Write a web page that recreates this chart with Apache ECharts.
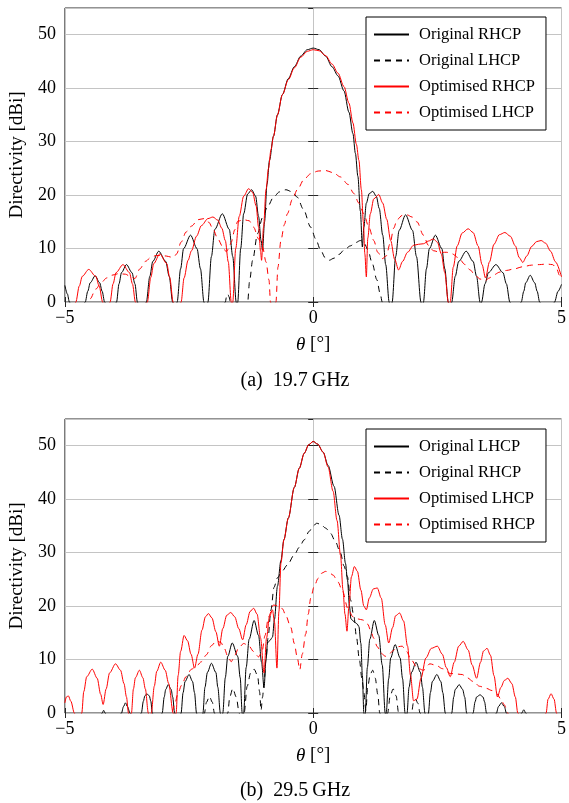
<!DOCTYPE html>
<html>
<head>
<meta charset="utf-8">
<script src="https://cdn.jsdelivr.net/npm/echarts@6/dist/echarts.min.js"></script>
<style>
html,body{margin:0;padding:0;background:#fff;}
#chart{width:569px;height:803px;}
</style>
</head>
<body>
<div id="chart"></div>
<script>
// ---------- tick values ----------
const xTicks = [-5, 0, 5];
const yTicks = [0, 10, 20, 30, 40, 50];
const yMax = 55;

// ---------- legend labels ----------
const legendA = ['Original RHCP', 'Original LHCP', 'Optimised RHCP', 'Optimised LHCP'];
const legendB = ['Original LHCP', 'Original RHCP', 'Optimised LHCP', 'Optimised RHCP'];
const captionA = '(a)  19.7\u2009GHz';
const captionB = '(b)  29.5\u2009GHz';

// ---------- (a) 19.7 GHz : [theta (deg), directivity (dBi)] ----------
const a_originalRHCP = [[-5,3.1],[-4.95,1.5],[-4.91,0],[-4.75,-6],
[-4.59,0],[-4.54,2.0],[-4.49,3.6],[-4.39,4.9],[-4.30,3.6],[-4.25,2.0],[-4.20,0],[-4.08,-6],
[-3.96,0],[-3.91,3.4],[-3.86,5.5],[-3.76,7.0],[-3.65,5.5],[-3.59,3.4],[-3.54,0],[-3.45,-6],
[-3.36,0],[-3.29,4.8],[-3.23,7.6],[-3.11,9.5],[-2.97,7.6],[-2.90,4.8],[-2.83,0],[-2.785,-6],
[-2.74,0],[-2.67,6.2],[-2.61,10.0],[-2.47,12.5],[-2.34,10.0],[-2.27,6.2],[-2.20,0],[-2.16,-6],
[-2.12,0],[-2.05,8.5],[-1.98,13.6],[-1.83,16.5],[-1.69,13.6],[-1.62,8.5],[-1.55,0],[-1.535,-6],
[-1.52,0],[-1.46,10],[-1.40,16.5],[-1.32,20.2],[-1.24,21.0],[-1.16,19.8],[-1.10,16],[-1.05,11.5],[-1.02,9.7],
[-0.98,15],[-0.93,22],[-0.88,26.5],[-0.80,31],[-0.72,35],[-0.62,38.8],[-0.50,41.8],[-0.38,44],[-0.25,46],[-0.12,47.2],[0,47.5],
[0.12,47.2],[0.25,46],[0.38,44],[0.50,42.3],[0.62,39.5],[0.72,35.5],[0.80,31.5],[0.85,27.8],[0.90,23.5],[0.95,17],[0.99,10.3],
[1.02,14],[1.07,18.5],[1.13,20.3],[1.20,20.7],[1.27,19.8],[1.33,17.5],[1.40,12.5],[1.46,7],[1.53,0],[1.56,-6],
[1.59,0],[1.66,8.5],[1.73,13.4],[1.86,16.3],[2.00,13.4],[2.08,8.5],[2.17,0],[2.195,-6],
[2.22,0],[2.28,6.2],[2.34,10],[2.46,12.5],[2.59,10],[2.65,6.2],[2.72,0],[2.755,-6],
[2.79,0],[2.86,4.8],[2.93,7.6],[3.08,9.5],[3.22,7.6],[3.29,4.8],[3.36,0],[3.375,-6],
[3.39,0],[3.46,3.4],[3.53,5.5],[3.68,7.0],[3.82,5.5],[3.89,3.4],[3.96,0],[4.07,-6],
[4.19,0],[4.24,2.0],[4.28,3.6],[4.37,5.0],[4.46,3.6],[4.51,2.0],[4.56,0],[4.72,-6],
[4.86,0],[4.93,2.0],[5,3.3]];

const a_originalLHCP = [[-5,-10],[-1.9,-6],[-1.77,0],[-1.745,1.0],[-1.72,1.5],[-1.695,1.0],[-1.67,0],[-1.5,-6],
[-1.32,0],[-1.28,4],[-1.22,7.8],[-1.12,12.8],[-1.02,15.8],[-0.92,17.8],[-0.80,19.6],[-0.68,20.6],[-0.55,21.0],[-0.42,20.6],[-0.32,19.6],[-0.20,17.4],[-0.05,14.0],[0.05,11.8],[0.15,9.7],[0.24,8.3],[0.32,7.8],[0.42,8.2],[0.52,8.9],[0.62,9.7],[0.75,10.5],[0.85,11.1],[0.95,11.5],[1.02,11.2],[1.10,9.8],[1.19,7.2],[1.28,4.2],[1.35,1.5],[1.39,0],[1.5,-6],[5,-10]];

const a_optimisedRHCP = [[-5,-8],[-4.85,-4],[-4.78,0],[-4.71,3.0],[-4.65,4.8],[-4.52,6.1],[-4.38,4.8],[-4.31,3.0],[-4.24,0],[-4.165,-6],
[-4.09,0],[-4.03,3.4],[-3.97,5.5],[-3.83,7.0],[-3.70,5.5],[-3.64,3.4],[-3.58,0],[-3.46,-6],
[-3.34,0],[-3.27,4.6],[-3.21,7.2],[-3.09,9.0],[-2.95,7.2],[-2.89,4.6],[-2.82,0],[-2.74,-6],
[-2.66,0],[-2.60,4.5],[-2.52,7.8],[-2.45,9.6],[-2.35,12.3],[-2.25,14.3],[-2.12,15.6],[-2.02,15.9],[-1.92,15.3],[-1.84,13.8],[-1.77,11.5],[-1.71,7.5],[-1.65,0],[-1.635,-6],
[-1.62,0],[-1.56,10],[-1.49,16],[-1.40,19.8],[-1.30,21.2],[-1.22,20.5],[-1.15,18],[-1.10,14],[-1.06,9.5],[-1.04,7.8],
[-1.00,14],[-0.95,21],[-0.90,25],[-0.85,28.5],[-0.80,31],[-0.72,35],[-0.62,38.8],[-0.50,41.6],[-0.38,43.8],[-0.25,45.8],[-0.12,46.9],[0,47.2],
[0.12,47.0],[0.25,46.1],[0.38,44.5],[0.50,42.8],[0.62,40.3],[0.72,37.2],[0.80,33.5],[0.87,29.5],[0.92,26.5],[0.97,21],[1.01,15],[1.04,9],[1.07,4.7],
[1.10,12],[1.15,16.5],[1.22,19.3],[1.32,20.1],[1.40,18.5],[1.48,15.5],[1.56,11.5],[1.64,8],[1.72,6.0],[1.80,7.6],[1.90,9.3],[2.02,10.6],[2.12,10.8],[2.22,10.9],[2.32,11.4],[2.42,11.8],[2.50,11.2],[2.58,9],[2.65,5.5],[2.72,0],[2.74,-6],
[2.76,0],[2.82,6.5],[2.90,10.5],[3.00,12.9],[3.12,13.7],[3.22,13.0],[3.32,10.5],[3.40,7],[3.47,4.5],[3.55,7.5],[3.64,10.8],[3.75,12.6],[3.86,13.0],[3.97,12.3],[4.07,10.5],[4.15,8.3],[4.22,7.4],[4.30,8.6],[4.40,10.4],[4.50,11.3],[4.59,11.5],[4.68,11.0],[4.78,9.5],[4.88,7.5],[5,4.7]];

const a_optimisedLHCP = [[-5,-8],[-4.6,-4],[-4.49,0.6],[-4.38,2.4],[-4.26,3.7],[-4.16,4.5],[-4.06,5.0],[-3.92,5.3],[-3.78,5.2],[-3.66,4.6],[-3.59,4.4],[-3.49,6.2],[-3.38,7.6],[-3.26,8.4],[-3.16,8.7],[-3.06,8.7],[-2.96,8.6],[-2.86,8.4],[-2.80,8.5],[-2.75,9.0],[-2.66,11.2],[-2.56,13.1],[-2.45,14.2],[-2.32,15.4],[-2.20,15.6],[-2.10,14.9],[-2.02,13.7],[-1.92,11.8],[-1.82,10.3],[-1.75,9.4],[-1.70,10.0],[-1.65,11.2],[-1.58,13.5],[-1.52,15.1],[-1.40,15.4],[-1.29,15.2],[-1.20,14.0],[-1.10,11.8],[-1.02,10.3],[-0.95,7.5],[-0.89,4.1],[-0.86,0],[-0.80,-4],[-0.75,0],[-0.71,6.5],[-0.65,11.5],[-0.58,14.5],[-0.52,16.5],[-0.42,19.2],[-0.32,21.0],[-0.18,23.0],[-0.05,24.0],[0.10,24.5],[0.25,24.6],[0.40,24.2],[0.55,23.4],[0.70,22.0],[0.82,20.3],[0.92,18.5],[1.02,16.5],[1.12,14.0],[1.22,11.5],[1.30,9.3],[1.39,8.1],[1.47,8.6],[1.55,11.0],[1.62,13.8],[1.69,15.4],[1.79,16.2],[1.89,16.3],[1.99,15.9],[2.09,15.0],[2.22,12.5],[2.32,10.6],[2.42,9.6],[2.55,9.3],[2.69,9.3],[2.80,9.0],[2.92,8.3],[3.06,7.0],[3.16,6.0],[3.26,5.0],[3.36,4.3],[3.46,4.0],[3.55,4.5],[3.62,5.0],[3.76,5.6],[3.89,5.9],[4.05,6.2],[4.22,6.6],[4.40,6.9],[4.56,7.0],[4.70,7.1],[4.82,7.0],[4.90,6.3],[4.96,5.0],[5,4.4]];

// ---------- (b) 29.5 GHz ----------
const b_originalLHCP = [[-5,-8],[-4.35,-6],[-4.25,0],[-4.22,0.5],[-4.19,0],[-4.05,-6],
[-3.86,0],[-3.82,1.2],[-3.78,1.9],[-3.74,1.2],[-3.69,0],[-3.58,-6],
[-3.46,0],[-3.42,2.2],[-3.39,3.2],[-3.35,3.6],[-3.30,3.2],[-3.27,2.2],[-3.24,0],[-3.14,-6],
[-3.04,0],[-3.00,3.0],[-2.97,4.4],[-2.92,5.3],[-2.86,4.4],[-2.83,3.0],[-2.79,0],[-2.72,-6],
[-2.66,0],[-2.62,3.8],[-2.58,5.9],[-2.50,7.2],[-2.43,5.9],[-2.39,3.8],[-2.35,0],[-2.28,-6],
[-2.22,0],[-2.18,4.8],[-2.13,7.6],[-2.05,9.3],[-1.96,7.6],[-1.92,4.8],[-1.87,0],[-1.845,-6],
[-1.82,0],[-1.77,6.6],[-1.72,10.6],[-1.63,13.1],[-1.52,10.6],[-1.47,6.6],[-1.43,0],[-1.415,-4],
[-1.40,0],[-1.35,8.5],[-1.29,13.8],[-1.19,17.3],[-1.10,14.5],[-1.04,9.5],[-0.99,4.7],[-0.95,10],[-0.92,13.1],[-0.87,13.6],[-0.82,14.2],[-0.78,17.5],[-0.72,23.7],[-0.65,28.5],[-0.59,32.4],[-0.50,36.5],[-0.38,42.2],[-0.28,45.8],[-0.18,48.6],[-0.09,50.2],[0,50.8],[0.09,50.3],[0.20,48.8],[0.30,46.3],[0.42,42.4],[0.52,37.0],[0.59,32.5],[0.65,28],[0.69,24.9],[0.73,20],[0.76,17.6],[0.82,17.1],[0.88,16.7],[0.92,16.2],[0.96,13],[0.99,7],[1.02,0],[1.035,-5],
[1.05,0],[1.09,8.5],[1.14,13.8],[1.23,17.3],[1.32,14.5],[1.39,9],[1.45,0],[1.46,-5],
[1.47,0],[1.52,6.4],[1.56,10.3],[1.65,12.8],[1.75,10.3],[1.80,6.4],[1.85,0],[1.87,-5],
[1.89,0],[1.93,4.8],[1.98,7.6],[2.07,9.5],[2.16,7.6],[2.20,4.8],[2.25,0],[2.285,-5],
[2.32,0],[2.36,3.8],[2.40,5.9],[2.49,7.2],[2.57,5.9],[2.61,3.8],[2.66,0],[2.72,-5],
[2.79,0],[2.83,3.0],[2.86,4.4],[2.94,5.3],[3.01,4.4],[3.05,3.0],[3.09,0],[3.15,-5],
[3.22,0],[3.26,2.1],[3.29,3.0],[3.36,3.4],[3.42,3.0],[3.45,2.1],[3.49,0],[3.59,-5],
[3.69,0],[3.73,1.2],[3.79,1.9],[3.85,1.2],[3.89,0],[4.05,-5],
[4.20,0],[4.24,0.6],[4.28,0],[4.4,-6],[5,-8]];

const b_originalRHCP = [[-5,-8],[-2.3,-6],[-2.19,0],[-2.15,2.0],[-2.09,3.1],[-2.03,2.0],[-1.99,0],[-1.85,-6],
[-1.72,0],[-1.68,3.0],[-1.62,4.6],[-1.55,3.0],[-1.49,0],[-1.44,-6],
[-1.39,0],[-1.33,5],[-1.26,7.5],[-1.19,8.2],[-1.12,7],[-1.08,4],[-1.05,0.5],[-1.02,3],[-0.99,5.6],[-0.95,10],[-0.91,14],[-0.85,19.3],[-0.79,23.5],[-0.72,25.3],[-0.62,26.6],[-0.52,27.7],[-0.38,29.6],[-0.28,31.0],[-0.18,32.4],[-0.08,34.0],[0,35.0],[0.07,35.5],[0.15,35.3],[0.25,34.6],[0.35,33.6],[0.45,32.0],[0.55,29.9],[0.62,27.5],[0.69,25.5],[0.75,21.2],[0.82,18.1],[0.87,14.3],[0.93,10],[0.98,6.5],[1.02,4],[1.06,0.5],[1.10,5],[1.15,7.3],[1.20,8.0],[1.25,6.5],[1.30,3.5],[1.34,0],[1.42,-6],
[1.50,0],[1.55,3.2],[1.61,4.5],[1.67,3.2],[1.72,0],[1.85,-6],
[1.98,0],[2.02,2.0],[2.06,2.6],[2.11,1.8],[2.15,0],[2.3,-6],[5,-8]];

const b_optimisedLHCP = [[-5,1.9],[-4.97,3.0],[-4.93,3.2],[-4.88,2.2],[-4.81,0],[-4.74,-5],
[-4.66,0],[-4.62,4],[-4.56,6.8],[-4.45,8.2],[-4.35,6.5],[-4.28,3.5],[-4.23,1.6],[-4.17,4.5],[-4.10,7.5],[-3.98,9.2],[-3.88,8],[-3.81,5.5],[-3.76,3],[-3.72,0],[-3.69,-4],
[-3.66,0],[-3.62,4.5],[-3.58,6.6],[-3.50,8.0],[-3.43,6.6],[-3.38,4.5],[-3.32,0],[-3.29,-4],
[-3.26,0],[-3.20,5],[-3.15,7.8],[-3.07,9.5],[-2.98,8],[-2.91,5.5],[-2.82,0],[-2.79,-4],
[-2.76,0],[-2.72,7],[-2.67,11.5],[-2.60,14.5],[-2.53,13.5],[-2.46,11],[-2.39,8.4],[-2.32,11],[-2.24,15.5],[-2.17,18],[-2.11,18.6],[-2.04,17.8],[-1.96,15.2],[-1.89,12.5],[-1.82,15.8],[-1.74,18.3],[-1.66,18.8],[-1.58,18],[-1.50,15.8],[-1.42,13.7],[-1.35,16.5],[-1.27,19.0],[-1.20,19.6],[-1.13,18.5],[-1.06,14],[-0.99,7.5],[-0.94,14],[-0.88,18],[-0.82,19.3],[-0.78,17],[-0.73,8.4],[-0.69,19],[-0.65,28],[-0.59,32.4],[-0.50,36.5],[-0.38,42.2],[-0.28,45.8],[-0.18,48.6],[-0.09,50.2],[0,50.8],[0.09,50.3],[0.20,48.8],[0.30,46],[0.40,41.5],[0.48,36],[0.55,29.5],[0.60,23.0],[0.64,18.5],[0.68,15.3],[0.72,20],[0.77,25.5],[0.83,27.4],[0.89,26.5],[0.96,23],[1.02,20],[1.07,19.3],[1.13,21.5],[1.21,23.2],[1.29,23.4],[1.37,21.5],[1.45,16.5],[1.52,13.1],[1.60,16],[1.66,18.2],[1.74,18.7],[1.82,17.2],[1.90,12.5],[1.96,7],[2.02,2.3],[2.09,2.6],[2.17,6.5],[2.27,10.3],[2.38,12.1],[2.50,12.5],[2.60,11],[2.68,8.5],[2.76,6.8],[2.84,9.5],[2.93,12.5],[3.02,13.4],[3.12,11.8],[3.20,9],[3.29,6.5],[3.37,9.5],[3.43,11.6],[3.50,12.1],[3.57,10.8],[3.64,7],[3.71,3.0],[3.78,4.8],[3.85,6.1],[3.92,6.5],[4.00,5.5],[4.07,3],[4.12,0],[4.3,-6],[4.6,-5],[4.69,0],[4.73,2.6],[4.79,3.6],[4.85,2.6],[4.90,0],[4.95,-5],[5,-6]];

const b_optimisedRHCP = [[-5,-8],[-2.95,-5],[-2.85,0],[-2.79,1.6],[-2.72,3.8],[-2.65,5.2],[-2.56,6.8],[-2.45,8.2],[-2.35,8.8],[-2.25,9.6],[-2.15,10.9],[-2.05,12.6],[-1.95,13.5],[-1.86,13.2],[-1.79,12.1],[-1.72,10.6],[-1.65,9.6],[-1.58,10.8],[-1.50,12.2],[-1.40,13.0],[-1.30,12.6],[-1.20,11.5],[-1.10,10.5],[-1.03,11.5],[-0.97,14.5],[-0.90,18],[-0.80,20.2],[-0.70,20.0],[-0.62,19.5],[-0.55,18.2],[-0.45,16.0],[-0.38,13],[-0.32,10.3],[-0.27,8.1],[-0.22,11],[-0.15,14.8],[-0.10,18.5],[-0.05,21.5],[0.02,23.7],[0.10,25.2],[0.18,26.2],[0.25,26.5],[0.32,26.3],[0.40,25.8],[0.50,24.5],[0.59,22.8],[0.70,19.5],[0.80,18.0],[0.90,17.6],[1.00,17.4],[1.10,16.6],[1.15,15.6],[1.22,14.0],[1.29,12.4],[1.37,11.2],[1.45,10.6],[1.52,10.9],[1.60,11.6],[1.70,12.4],[1.79,12.5],[1.88,11.5],[1.97,10.0],[2.10,8.4],[2.22,8.0],[2.35,9.2],[2.48,8.9],[2.60,8.3],[2.76,7.4],[2.88,7.3],[3.00,7.2],[3.10,6.6],[3.22,5.9],[3.35,5.0],[3.49,4.6],[3.60,4.2],[3.69,3.7],[3.78,2.6],[3.85,1.5],[3.92,0],[4.0,-5],[5,-8]];

// ---------- styling / layout ----------
const SERIF = '"Liberation Serif", "Times New Roman", serif';
const BLACK = '#000000', RED = '#ff0000';
const GRID_COLOR = '#c4c4c4';
const FRAME = '#262626';

const grids = [
  {left: 63, top: 8, width: 499, height: 294},
  {left: 63, top: 419, width: 499, height: 294}
];

function fmtX(v) { return v < 0 ? '\u2212' + Math.abs(v) : String(v); }

function xAxes(gi) {
  return [
    {gridIndex: gi, type: 'value', min: xTicks[0], max: xTicks[xTicks.length-1], interval: xTicks[1]-xTicks[0],
     position: 'bottom',
     axisLine: {show: false},
     axisTick: {show: true, inside: true, length: 5, lineStyle: {color: FRAME}},
     axisLabel: {formatter: fmtX, fontFamily: SERIF, fontSize: 18, color: '#000', margin: 7},
     splitLine: {show: true, lineStyle: {color: GRID_COLOR, width: 1}},
     name: '{i|\u03b8} [\u00b0]', nameLocation: 'middle', nameGap: 33,
     nameTextStyle: {fontFamily: SERIF, fontSize: 19, color: '#000',
       rich: {i: {fontFamily: SERIF, fontSize: 19, fontStyle: 'italic', color: '#000'}}}},
    {gridIndex: gi, type: 'value', min: xTicks[0], max: xTicks[xTicks.length-1], interval: xTicks[1]-xTicks[0],
     position: 'top',
     axisLine: {show: false},
     axisTick: {show: true, inside: true, length: 5, lineStyle: {color: FRAME}},
     axisLabel: {show: false}, splitLine: {show: false}}
  ];
}
function yAxes(gi) {
  return [
    {gridIndex: gi, type: 'value', min: yTicks[0], max: yMax, interval: yTicks[1]-yTicks[0],
     position: 'left',
     axisLine: {show: false},
     axisTick: {show: true, inside: true, length: 5, lineStyle: {color: FRAME}},
     axisLabel: {fontFamily: SERIF, fontSize: 18, color: '#000', margin: 9, showMaxLabel: false,
       formatter: v => (yTicks.indexOf(v) >= 0 ? String(v) : '')},
     splitLine: {show: true, lineStyle: {color: GRID_COLOR, width: 1}},
     name: 'Directivity [dBi]', nameLocation: 'middle', nameGap: 29, nameRotate: 90,
     nameTextStyle: {fontFamily: SERIF, fontSize: 19, color: '#000'}},
    {gridIndex: gi, type: 'value', min: yTicks[0], max: yMax, interval: yTicks[1]-yTicks[0],
     position: 'right',
     axisLine: {show: false},
     axisTick: {show: true, inside: true, length: 5, lineStyle: {color: FRAME}},
     axisLabel: {show: false}, splitLine: {show: false}}
  ];
}

function mkSeries(prefix, name, data, color, dashed, axIdx) {
  return {
    name: prefix + name, type: 'line', data: data,
    xAxisIndex: axIdx, yAxisIndex: axIdx,
    showSymbol: false, symbol: 'none', smooth: 0.3, smoothMonotone: 'x', clip: true,
    lineStyle: {color: color, width: 1, type: dashed ? [6, 5] : 'solid'},
    itemStyle: {color: color},
    emphasis: {disabled: true}, silent: true, animation: false
  };
}

const series = [
  mkSeries('a|', legendA[0], a_originalRHCP, BLACK, false, 0),
  mkSeries('a|', legendA[1], a_originalLHCP, BLACK, true, 0),
  mkSeries('a|', legendA[2], a_optimisedRHCP, RED, false, 0),
  mkSeries('a|', legendA[3], a_optimisedLHCP, RED, true, 0),
  mkSeries('b|', legendB[0], b_originalLHCP, BLACK, false, 2),
  mkSeries('b|', legendB[1], b_originalRHCP, BLACK, true, 2),
  mkSeries('b|', legendB[2], b_optimisedLHCP, RED, false, 2),
  mkSeries('b|', legendB[3], b_optimisedRHCP, RED, true, 2)
];

function mkLegend(prefix, names, top) {
  return {
    data: names.map(n => prefix + n),
    formatter: n => n.slice(2),
    orient: 'vertical', left: 366, top: top,
    itemWidth: 35, itemHeight: 14, itemGap: 9,
    padding: [9, 11, 9, 7],
    borderColor: '#000', borderWidth: 1, backgroundColor: '#fff',
    selectedMode: false,
    itemStyle: {opacity: 0, borderWidth: 0},
    textStyle: {fontFamily: SERIF, fontSize: 16.5, color: '#000', padding: [0, 0, 0, 5]}
  };
}

const chart = echarts.init(document.getElementById('chart'), null, {renderer: 'canvas'});
chart.setOption({
  animation: false,
  backgroundColor: '#fff',
  grid: grids.map(g => Object.assign({show: true, borderColor: FRAME, borderWidth: 1, backgroundColor: 'transparent', containLabel: false}, g)),
  xAxis: [].concat(xAxes(0), xAxes(1)),
  yAxis: [].concat(yAxes(0), yAxes(1)),
  legend: [mkLegend('a|', legendA, 17), mkLegend('b|', legendB, 429)],
  series: series,
  graphic: [
    {type: 'text', x: 295, y: 381, style: {text: captionA, font: '20px ' + SERIF, fill: '#000', textAlign: 'center', textVerticalAlign: 'middle'}},
    {type: 'text', x: 295, y: 791, style: {text: captionB, font: '20px ' + SERIF, fill: '#000', textAlign: 'center', textVerticalAlign: 'middle'}}
  ]
});
</script>
</body>
</html>
